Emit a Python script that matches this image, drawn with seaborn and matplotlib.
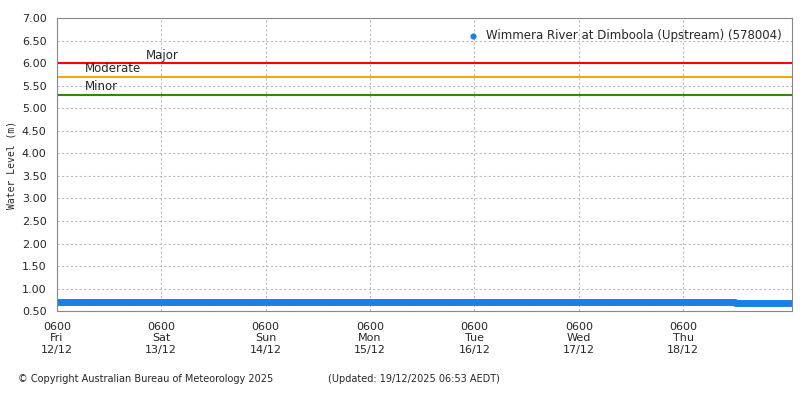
import matplotlib
matplotlib.use("Agg")
import matplotlib.pyplot as plt
import seaborn as sns
import numpy as np
import pandas as pd

hours = [0, 3, 6, 9, 12, 15, 18, 21, 24, 27, 30, 33, 36, 39, 42, 45, 48, 51, 54, 57, 60, 63, 66, 69, 72,
         75, 78, 81, 84, 87, 90, 93, 96, 99, 102, 105, 108, 111, 114, 117, 120, 123, 126, 129, 132, 135,
         138, 141, 144, 147, 150, 153, 156, 159, 162, 165, 168.9]
levels = [0.71, 0.71, 0.71, 0.71, 0.71, 0.71, 0.71, 0.71, 0.71, 0.71, 0.71, 0.71, 0.71, 0.71, 0.71, 0.71,
          0.71, 0.71, 0.71, 0.70, 0.70, 0.70, 0.70, 0.70, 0.70, 0.70, 0.70, 0.70, 0.70, 0.70, 0.70, 0.70,
          0.70, 0.70, 0.70, 0.70, 0.70, 0.70, 0.70, 0.70, 0.70, 0.70, 0.70, 0.70, 0.70, 0.70, 0.70, 0.70,
          0.70, 0.70, 0.70, 0.70, 0.69, 0.69, 0.69, 0.69, 0.69]
thresholds = {"Minor": 5.3, "Moderate": 5.7, "Major": 6.0}
thr_colors = {"Minor": "#2e8b00", "Moderate": "#ffa500", "Major": "#ff0000"}
tick_labels = ["0600\nFri\n12/12", "0600\nSat\n13/12", "0600\nSun\n14/12", "0600\nMon\n15/12",
               "0600\nTue\n16/12", "0600\nWed\n17/12", "0600\nThu\n18/12"]
series_name = "Wimmera River at Dimboola (Upstream) (578004)"

sns.set_style("white")
plt.rcParams["font.family"] = ["DejaVu Sans"]
fig = plt.figure(figsize=(8, 4), dpi=100)
ax = fig.add_axes([0.071, 0.222, 0.919, 0.733])
df = pd.DataFrame({"h": hours, "v": levels})
sns.lineplot(data=df, x="h", y="v", ax=ax, color="#1a7fe8", lw=5, drawstyle="steps-post",
             label=series_name, legend=False)
ax.scatter([], [], color="#1a7fe8", s=18, label=series_name)
for name, v in thresholds.items():
    ax.axhline(v, color=thr_colors[name], lw=1.5)
ax.text(20.5, 6.0 + 0.03, "Major", fontsize=8.5, va="bottom")
ax.text(6.5, 5.7 + 0.03, "Moderate", fontsize=8.5, va="bottom")
ax.text(6.5, 5.3 + 0.03, "Minor", fontsize=8.5, va="bottom")
ax.set_xlim(0, 169)
ax.set_ylim(0.5, 7.0)
ax.set_yticks(np.arange(0.5, 7.01, 0.5))
ax.set_yticklabels([f"{t:.2f}" for t in np.arange(0.5, 7.01, 0.5)], fontsize=8)
ax.set_xticks([24 * i for i in range(7)])
ax.set_xticklabels(tick_labels, fontsize=8)
ax.set_xticks(np.arange(0, 169, 3), minor=True)
ax.tick_params(axis="x", which="minor", length=3)
ax.tick_params(axis="both", which="major", length=4, direction="out")
ax.grid(True, color="#bbbbbb", ls=(0, (2, 2)), lw=0.8)
ax.set_xlabel("")
ax.set_ylabel("Water Level (m)", fontsize=7, family="monospace")
for s in ax.spines.values():
    s.set_color("#888888")
handles, labels = ax.get_legend_handles_labels()
ax.legend([handles[-1]], [labels[-1]], loc="upper right", frameon=False, fontsize=8.5,
          handletextpad=0.1, markerscale=0.8)
fig.text(0.022, 0.045, "© Copyright Australian Bureau of Meteorology 2025", fontsize=7)
fig.text(0.41, 0.045, "(Updated: 19/12/2025 06:53 AEDT)", fontsize=7)
fig.savefig("out.png", dpi=100)
